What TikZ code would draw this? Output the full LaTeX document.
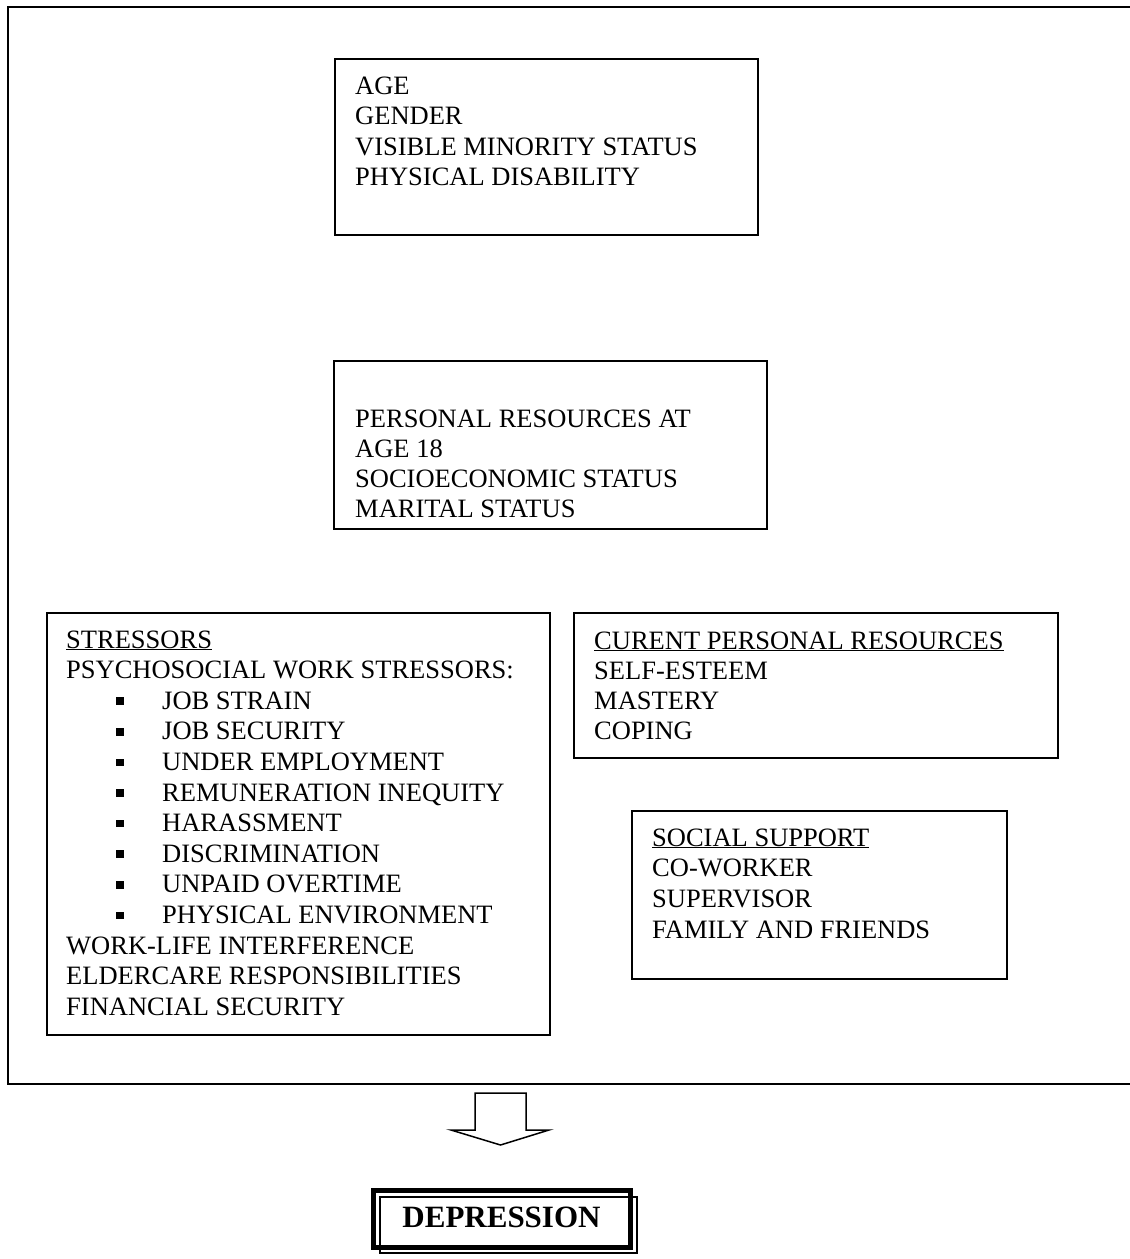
\documentclass[tikz,border=0pt]{standalone}
\usepackage{fontspec}
\setmainfont{Liberation Serif}
\begin{document}
\begin{tikzpicture}[x=1pt,y=-1pt,
  box/.style={draw, line width=1.5pt, inner sep=0pt, anchor=north west},
  txt/.style={anchor=base west, inner sep=0pt, font=\fontsize{26.5}{30}\selectfont},
  bul/.style={fill, rectangle, minimum size=7.5pt, inner sep=0pt},
  frame/.style={line width=1.8pt},
  blockarrow/.style={line width=1.5pt, line join=miter}]
\useasboundingbox (0,0) rectangle (1130,1259);

% outer frame (open on the right)
\coordinate (ftr) at (1130,7);
\coordinate (ftl) at (8,7);
\coordinate (fbl) at (8,1084);
\coordinate (fbr) at (1130,1084);
\draw[frame] (ftr) -- (ftl) -- (fbl) -- (fbr);

% box 1
\node[box, minimum width=423pt, minimum height=176pt] (agebox) at (334,58) {};
\foreach \t [count=\i] in {AGE, GENDER, VISIBLE MINORITY STATUS, PHYSICAL DISABILITY}
  \node[txt] (a\i) at (355,{94+30.5*(\i-1)}) {\t};

% box 2
\node[box, minimum width=433pt, minimum height=168pt] (resbox) at (333,360) {};
\foreach \t [count=\i] in {PERSONAL RESOURCES AT, AGE 18, SOCIOECONOMIC STATUS, MARITAL STATUS}
  \node[txt] (r\i) at (355,{427+30.3*(\i-1)}) {\t};

% stressors
\node[box, minimum width=503pt, minimum height=422pt] (strbox) at (46,612) {};
\foreach \t [count=\i] in {\underline{STRESSORS}, PSYCHOSOCIAL WORK STRESSORS:}
  \node[txt] (s\i) at (66,{648+30.6*(\i-1)}) {\t};
\foreach \t [count=\i] in {JOB STRAIN, JOB SECURITY, UNDER EMPLOYMENT, REMUNERATION INEQUITY, HARASSMENT, DISCRIMINATION, UNPAID OVERTIME, PHYSICAL ENVIRONMENT}{
  \node[txt] (j\i) at (162,{648+30.6*(\i+1)}) {\t};
  \node[bul] (b\i) at (120,{648+30.6*(\i+1)-8}) {};
}
\foreach \t [count=\i] in {WORK-LIFE INTERFERENCE, ELDERCARE RESPONSIBILITIES, FINANCIAL SECURITY}
  \node[txt] (w\i) at (66,{648+30.6*(\i+9)}) {\t};

% current personal resources
\node[box, minimum width=484pt, minimum height=145pt] (curbox) at (573,612) {};
\foreach \t [count=\i] in {\underline{CURENT PERSONAL RESOURCES}, SELF-ESTEEM, MASTERY, COPING}
  \node[txt] (c\i) at (594,{649+30.3*(\i-1)}) {\t};

% social support
\node[box, minimum width=375pt, minimum height=168pt] (socbox) at (631,810) {};
\foreach \t [count=\i] in {\underline{SOCIAL SUPPORT}, CO-WORKER, SUPERVISOR, FAMILY AND FRIENDS}
  \node[txt] (p\i) at (652,{846+30.7*(\i-1)}) {\t};

% block arrow
\draw[blockarrow] (475,1093) -- (526,1093) -- (526,1130) -- (549,1130)
  -- (500.5,1145) -- (451,1130) -- (475,1130) -- cycle;

% depression
\draw[line width=5pt] (373,1190) rectangle (630,1247);
\draw[line width=1.6pt] (380,1197) rectangle (637,1253);
\node[anchor=base, inner sep=0pt, font=\bfseries\fontsize{31}{36}\selectfont] (dep) at (501.5,1227) {DEPRESSION};
\end{tikzpicture}
\end{document}
